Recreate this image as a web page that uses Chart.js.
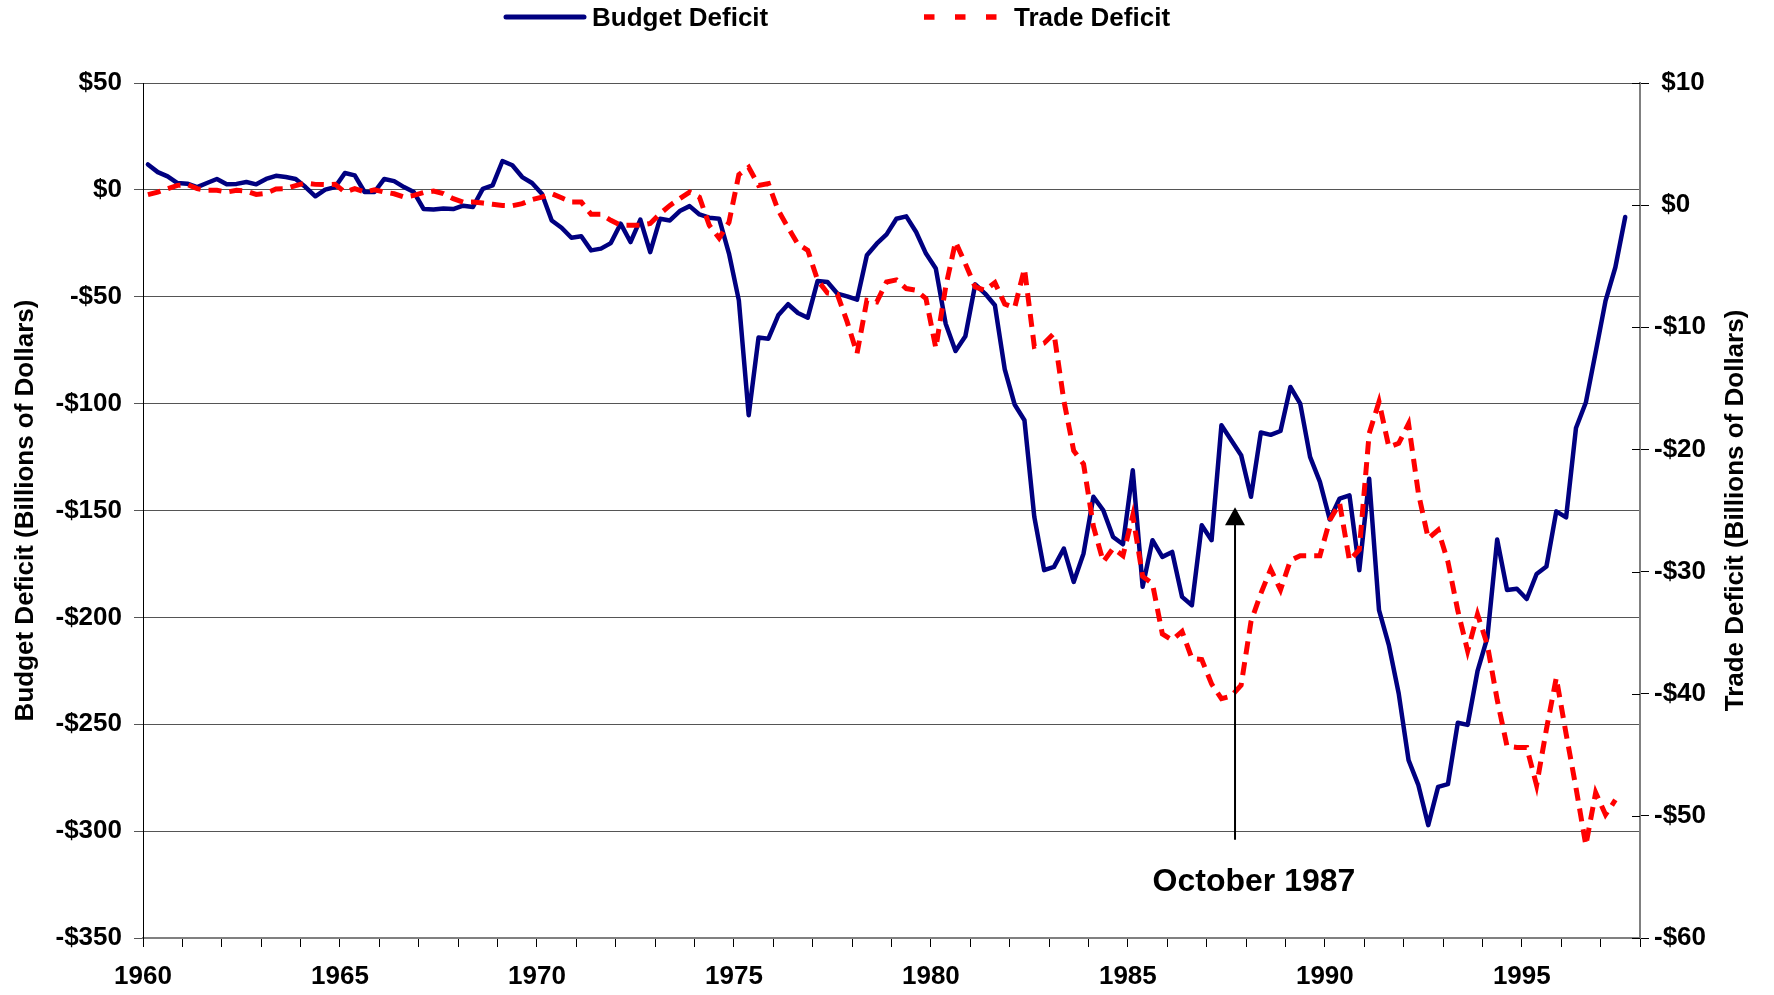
<!DOCTYPE html>
<html>
<head>
<meta charset="utf-8">
<script src="https://cdn.jsdelivr.net/npm/chart.js@4.4.1/dist/chart.umd.min.js"></script>
<style>
    html, body { margin: 0; padding: 0; background: #fff; }
    #contenedor { width: 1774px; height: 995px; position: relative; }
</style>
</head>
<body>
<div id="contenedor"><canvas id="grafico"></canvas></div>
<script>
// quarterly values, first quarter is 1960 Q1
const primerAnio = 1960;

const deficitPresupuesto = [
    11.9, 8.3, 6.3, 3.2, 2.9, 1.3, 3.2, 5.1, 2.6, 2.8,
    3.7, 2.6, 5.1, 6.6, 6.0, 5.1, 1.3, -3.0, 0.1, 1.3,
    7.9, 6.8, -1.0, -1.0, 5.1, 4.1, 1.3, -1.0, -9.0, -9.2,
    -8.7, -9.0, -7.4, -8.0, 0.5, 2.1, 13.5, 11.5, 6.0, 3.2,
    -1.8, -14.3, -17.7, -22.4, -21.7, -28.3, -27.5, -24.9, -15.8, -24.4,
    -13.9, -29.1, -13.5, -14.3, -9.9, -7.6, -11.5, -13.0, -13.5, -29.8,
    -51.7, -105.4, -69.1, -69.6, -58.7, -53.5, -57.6, -59.8, -42.6, -43.1,
    -48.5, -49.8, -51.4, -30.6, -25.2, -20.8, -13.5, -12.4, -19.7, -29.8,
    -36.8, -62.6, -75.4, -68.5, -44.2, -48.5, -54.0, -84.0, -100.4, -107.8,
    -153.0, -177.9, -176.4, -167.8, -183.4, -170.1, -143.6, -149.9, -162.4, -165.8,
    -131.2, -185.7, -163.9, -171.7, -169.4, -190.4, -194.3, -156.9, -163.9, -110.1,
    -117.1, -124.1, -143.6, -113.5, -114.6, -112.8, -92.2, -100.0, -124.9, -136.6,
    -154.2, -144.4, -142.9, -177.9, -135.1, -196.6, -213.0, -235.6, -266.8, -278.5,
    -297.2, -279.3, -278.0, -249.3, -250.3, -225.2, -209.5, -163.6, -187.2, -186.6,
    -191.4, -179.7, -176.2, -150.4, -153.2, -111.4, -99.5, -75.9, -51.9, -36.2,
    -12.7
];

const deficitComercial = [
    0.86, 1.07, 1.35, 1.62, 1.68, 1.35, 1.21, 1.21, 1.07, 1.21,
    1.15, 0.88, 0.97, 1.32, 1.35, 1.6, 1.81, 1.7, 1.68, 1.7,
    1.07, 1.35, 1.07, 1.26, 1.07, 0.93, 0.66, 0.8, 1.03, 1.15,
    0.94, 0.53, 0.25, 0.25, 0.17, 0.07, -0.02, -0.05, 0.12, 0.45,
    0.66, 0.94, 0.6, 0.25, 0.25, -0.75, -0.75, -1.24, -1.65, -1.65,
    -1.65, -1.5, -0.7, -0.02, 0.53, 1.07, 0.65, -1.65, -2.7, -1.4,
    2.5, 3.1, 1.62, 1.76, -0.43, -1.84, -3.2, -3.7, -6.15, -7.19,
    -7.3, -9.56, -12.15, -7.8, -7.93, -6.29, -6.12, -6.83, -6.97, -7.65,
    -11.7, -6.7, -3.0, -4.8, -6.7, -6.97, -6.35, -8.1, -8.4, -5.2,
    -11.55, -11.3, -10.5, -16.0, -20.1, -21.2, -26.3, -29.2, -28.1, -28.7,
    -25.4, -30.4, -31.0, -35.1, -35.6, -34.9, -37.1, -37.2, -39.2, -40.4,
    -40.2, -39.3, -34.1, -31.8, -29.8, -31.5, -29.1, -28.7, -28.7, -28.7,
    -25.8, -24.4, -29.1, -28.2, -18.7, -16.1, -19.8, -19.5, -17.9, -23.6,
    -27.3, -26.6, -29.2, -33.2, -36.5, -33.5, -36.0, -40.5, -44.3, -44.4,
    -44.4, -47.5, -42.9, -38.7, -43.3, -47.7, -52.4, -48.1, -49.9, -48.7
];

const aniosEtiqueta = [1960, 1965, 1970, 1975, 1980, 1985, 1990, 1995];
const ticksPresupuesto = [50, 0, -50, -100, -150, -200, -250, -300, -350];
const ticksComercio = [10, 0, -10, -20, -30, -40, -50, -60];

const nombres = ['Budget Deficit', 'Trade Deficit'];
const titulos = ['Budget Deficit (Billions of Dollars)', 'Trade Deficit (Billions of Dollars)'];

// la flecha de octubre 1987
const eventoTexto = 'October 1987';
const eventoAnio = 1987.72;
const eventoPunta = -148.5;
const eventoBase = -304;
const textoAnio = 1988.2;
const textoValor = -324;

const fuente = '"Liberation Sans", Arial, sans-serif';

function aPuntos(valores) {
    return valores.map((v, i) => ({ x: primerAnio + (i + 0.5) / 4, y: v }));
}

function dolares(v, espacio) {
    if (v < 0) return '-$' + Math.abs(v);
    return (espacio ? ' $' : '$') + v;
}

const extras = {
    id: 'extras',
    afterDraw(chart) {
        const ctx = chart.ctx;
        const area = chart.chartArea;
        const x = chart.scales.x;
        const y = chart.scales.y;
        const y2 = chart.scales.y2;

        ctx.save();

        // ticks del eje derecho hacia adentro
        ctx.strokeStyle = '#000';
        ctx.lineWidth = 1;
        ctx.beginPath();
        ticksComercio.forEach(v => {
            const py = Math.round(y2.getPixelForValue(v)) + 0.5;
            ctx.moveTo(area.right - 8, py);
            ctx.lineTo(area.right, py);
        });
        ctx.stroke();

        // flecha
        const px = x.getPixelForValue(eventoAnio);
        const punta = y.getPixelForValue(eventoPunta);
        const base = y.getPixelForValue(eventoBase);
        ctx.strokeStyle = '#000';
        ctx.lineWidth = 2;
        ctx.beginPath();
        ctx.moveTo(px, base);
        ctx.lineTo(px, punta + 16);
        ctx.stroke();
        ctx.fillStyle = '#000';
        ctx.beginPath();
        ctx.moveTo(px, punta);
        ctx.lineTo(px - 10, punta + 18);
        ctx.lineTo(px + 10, punta + 18);
        ctx.closePath();
        ctx.fill();

        ctx.font = 'bold 32px ' + fuente;
        ctx.textAlign = 'center';
        ctx.textBaseline = 'middle';
        ctx.fillText(eventoTexto, x.getPixelForValue(textoAnio), y.getPixelForValue(textoValor));

        // titulos de los ejes
        const centroY = (area.top + area.bottom) / 2;
        ctx.font = 'bold 26px ' + fuente;
        ctx.save();
        ctx.translate(26, centroY);
        ctx.rotate(-Math.PI / 2);
        ctx.fillText(titulos[0], 0, 0);
        ctx.restore();
        ctx.save();
        ctx.translate(1736, centroY);
        ctx.rotate(-Math.PI / 2);
        ctx.fillText(titulos[1], 0, 0);
        ctx.restore();

        // leyenda
        ctx.textAlign = 'left';
        ctx.lineWidth = 5;
        ctx.strokeStyle = '#000080';
        ctx.lineCap = 'round';
        ctx.beginPath();
        ctx.moveTo(506, 17);
        ctx.lineTo(584, 17);
        ctx.stroke();
        ctx.fillText(nombres[0], 592, 19);

        ctx.strokeStyle = '#ff0000';
        ctx.lineCap = 'butt';
        ctx.lineWidth = 5.3;
        ctx.setLineDash([10.5, 20.5]);
        ctx.beginPath();
        ctx.moveTo(924, 17);
        ctx.lineTo(997, 17);
        ctx.stroke();
        ctx.setLineDash([]);
        ctx.fillText(nombres[1], 1014, 19);

        ctx.restore();
    }
};

const fuenteEjes = { family: fuente, size: 26, weight: 'bold' };

new Chart(document.getElementById('grafico'), {
    type: 'line',
    data: {
        datasets: [
            {
                label: nombres[0],
                data: aPuntos(deficitPresupuesto),
                yAxisID: 'y',
                borderColor: '#000080',
                borderWidth: 4.5,
                borderJoinStyle: 'round',
                borderCapStyle: 'round',
                pointRadius: 0,
                tension: 0,
                fill: false,
                order: 1
            },
            {
                label: nombres[1],
                data: aPuntos(deficitComercial),
                yAxisID: 'y2',
                borderColor: '#ff0000',
                borderWidth: 5,
                borderDash: [13, 8],
                borderCapStyle: 'butt',
                pointRadius: 0,
                tension: 0,
                fill: false,
                order: 0
            }
        ]
    },
    options: {
        responsive: true,
        maintainAspectRatio: false,
        animation: false,
        layout: { padding: { top: 83, left: 0, right: 0, bottom: 0 } },
        plugins: {
            legend: { display: false },
            tooltip: { enabled: false }
        },
        scales: {
            x: {
                type: 'linear',
                min: 1960,
                max: 1998,
                afterFit: (scale) => { scale.height = 57; },
                grid: { drawOnChartArea: false, tickLength: 9, color: '#000', lineWidth: 1 },
                border: { color: '#808080', width: 2 },
                ticks: {
                    stepSize: 1,
                    autoSkip: false,
                    maxRotation: 0,
                    padding: 14,
                    color: '#000',
                    font: fuenteEjes,
                    callback: (v) => aniosEtiqueta.includes(Math.round(v)) ? String(Math.round(v)) : ''
                }
            },
            y: {
                position: 'left',
                min: -350,
                max: 50,
                afterFit: (scale) => { scale.width = 143; },
                grid: { color: '#555', lineWidth: 1, tickLength: 9, tickColor: '#555' },
                border: { color: '#000', width: 1 },
                afterBuildTicks: (scale) => { scale.ticks = ticksPresupuesto.map(v => ({ value: v })); },
                ticks: {
                    padding: 12,
                    color: '#000',
                    font: fuenteEjes,
                    callback: (v) => dolares(v, false)
                }
            },
            y2: {
                position: 'right',
                min: -60,
                max: 10,
                afterFit: (scale) => { scale.width = 134; },
                grid: { drawOnChartArea: false, tickLength: 9, color: '#000' },
                border: { color: '#808080', width: 2 },
                afterBuildTicks: (scale) => { scale.ticks = ticksComercio.map(v => ({ value: v })); },
                ticks: {
                    padding: 5,
                    color: '#000',
                    font: fuenteEjes,
                    callback: (v) => dolares(v, true)
                }
            }
        }
    },
    plugins: [extras]
});
</script>
</body>
</html>
